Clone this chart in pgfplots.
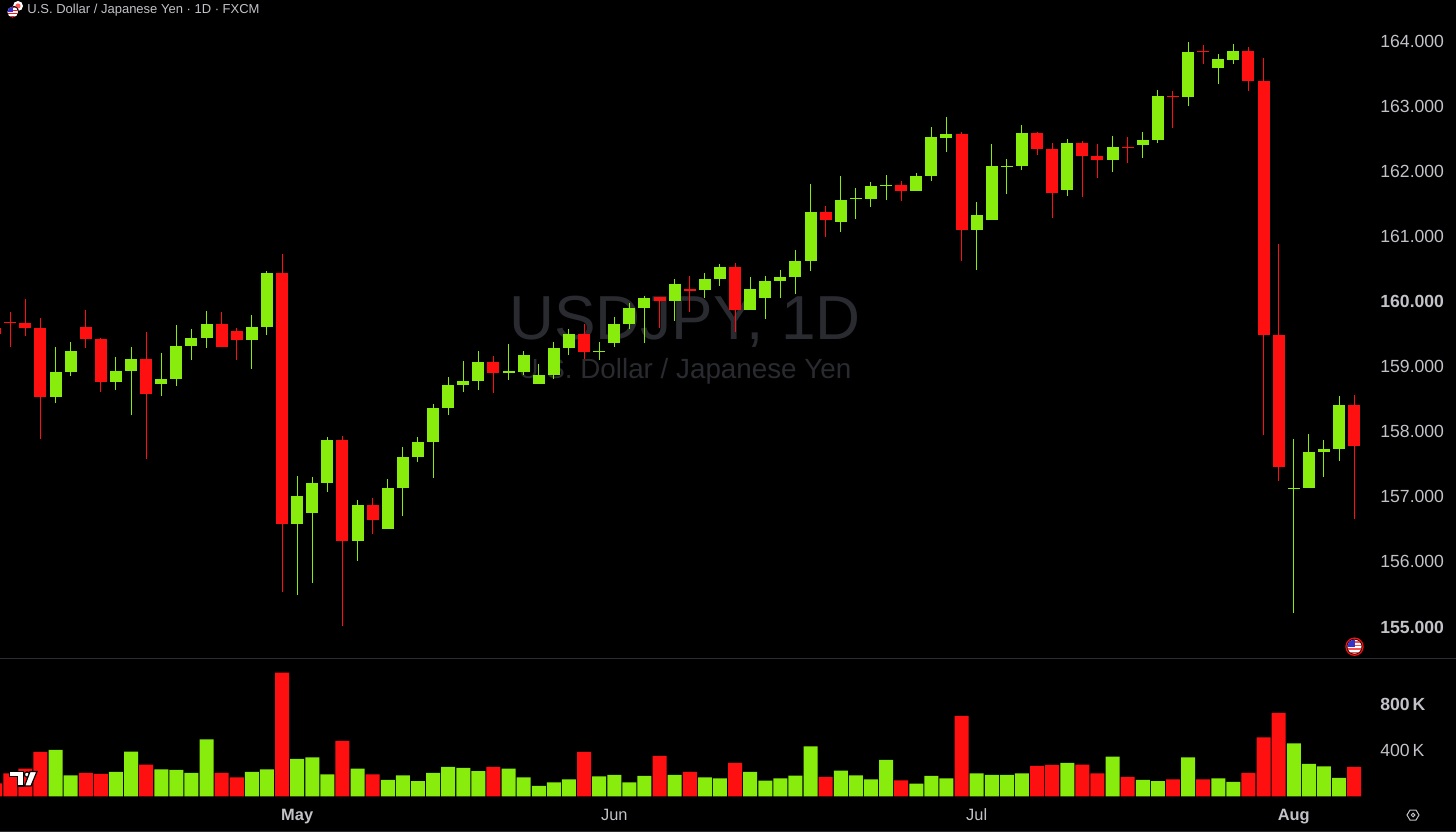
\documentclass[border=0pt]{standalone}
\usepackage{fontspec}
\setmainfont{Liberation Sans}
\usepackage{pgfplots}
\usepackage{pgfplotstable}
\pgfplotsset{compat=1.18}
\definecolor{upc}{HTML}{88EC0C}
\definecolor{dnc}{HTML}{FF1010}
\definecolor{lab}{HTML}{C2C2C8}
\definecolor{wm}{HTML}{2A2B30}
\definecolor{sepc}{HTML}{2C2C30}

\pgfplotstableread{
i o h l c v
3 158.533 159.295 158.446 158.922 403
4 158.922 159.372 158.855 159.239 183
7 158.763 159.147 158.645 158.932 212
8 158.932 159.306 158.256 159.116 389
10 158.732 159.203 158.553 158.804 235
11 158.804 159.633 158.707 159.321 229
12 159.321 159.572 159.101 159.434 203
13 159.434 159.848 159.290 159.649 496
16 159.408 159.787 158.958 159.608 212
17 159.608 160.468 159.490 160.432 235
19 156.582 157.324 155.492 157.012 325
20 156.746 157.299 155.681 157.212 339
21 157.212 157.918 157.079 157.867 191
23 156.321 156.946 156.014 156.869 241
25 156.511 157.268 156.511 157.135 142
26 157.135 157.760 156.710 157.611 183
27 157.611 157.923 157.540 157.836 131
28 157.842 158.420 157.284 158.359 203
29 158.359 158.835 158.256 158.712 255
30 158.716 159.080 158.614 158.778 247
31 158.783 159.244 158.639 159.070 220
33 158.906 159.341 158.798 158.926 241
34 158.921 159.233 158.875 159.172 165
35 158.737 159.039 158.737 158.870 90
36 158.875 159.372 158.814 159.290 122
37 159.290 159.576 159.177 159.494 148
39 159.228 159.372 159.100 159.238 174
40 159.356 159.761 159.295 159.653 186
41 159.653 159.981 159.576 159.904 122
42 159.904 160.088 159.367 160.058 177
44 160.006 160.339 159.704 160.273 186
46 160.175 160.442 160.058 160.339 165
47 160.344 160.570 160.242 160.529 157
49 159.868 160.370 159.868 160.186 212
50 160.058 160.396 159.735 160.319 136
51 160.319 160.477 160.058 160.370 157
52 160.375 160.790 160.114 160.621 180
53 160.626 161.808 160.472 161.368 435
55 161.220 161.926 161.071 161.563 223
56 161.568 161.737 161.266 161.583 183
57 161.568 161.834 161.450 161.773 148
58 161.783 161.947 161.558 161.793 316
60 161.701 161.978 161.701 161.927 110
61 161.927 162.674 161.855 162.521 177
62 162.515 162.838 162.300 162.567 157
64 161.097 161.522 160.483 161.323 200
65 161.251 162.423 161.251 162.075 186
66 162.075 162.183 161.655 162.085 186
67 162.075 162.710 162.024 162.582 200
70 161.707 162.490 161.625 162.428 290
73 162.178 162.546 161.983 162.377 345
75 162.403 162.597 162.208 162.480 142
76 162.485 163.242 162.439 163.150 131
78 163.135 163.990 163.002 163.826 339
80 163.585 163.795 163.334 163.718 157
81 163.713 163.954 163.652 163.841 125
85 157.114 157.882 155.220 157.134 461
86 157.129 157.959 157.129 157.692 281
87 157.692 157.867 157.303 157.739 261
88 157.733 158.547 157.554 158.404 160
}\up

\pgfplotstableread{
i o h l c v
-1 159.587 159.700 159.400 159.505 113
0 159.690 159.833 159.306 159.680 200
1 159.674 160.033 159.470 159.587 241
2 159.587 159.741 157.882 158.533 386
5 159.608 159.864 159.290 159.418 203
6 159.418 159.434 158.604 158.763 194
9 159.116 159.531 157.586 158.584 276
14 159.649 159.838 159.296 159.296 203
15 159.551 159.587 159.096 159.408 165
18 160.432 160.724 155.538 156.582 1076
22 157.867 157.929 155.021 156.321 481
24 156.869 156.987 156.434 156.638 191
32 159.070 159.167 158.588 158.901 255
38 159.500 159.653 159.116 159.228 386
43 160.063 160.068 159.597 160.006 351
45 160.191 160.390 159.837 160.165 212
48 160.529 160.590 159.535 159.868 290
54 161.368 161.460 160.989 161.245 168
59 161.788 161.850 161.538 161.691 139
63 162.567 162.597 160.621 161.097 699
68 162.582 162.597 162.249 162.346 264
69 162.346 162.428 161.287 161.660 273
71 162.428 162.469 161.609 162.239 276
72 162.234 162.423 161.901 162.178 200
74 162.377 162.520 162.131 162.357 168
77 163.160 163.227 162.669 163.145 148
79 163.841 163.933 163.652 163.826 148
82 163.841 163.903 163.237 163.386 203
83 163.391 163.739 157.954 159.484 513
84 159.489 160.877 157.237 157.462 725
89 158.404 158.568 156.664 157.779 255
}\dn

\pgfplotsset{
  chartaxis/.style={
    scale only axis, width=686pt,
    xmin=-0.682, xmax=90.18,
    axis line style={draw=none},
    major tick length=0pt,
    minor tick num=0,
    tick style={draw=none},
    clip=true,
  },
  wick/.style={draw=none, mark=none, forget plot,
    error bars/.cd, y dir=both, y explicit, error mark=none,
    error bar style={line width=0.5pt, draw=#1}},
  body/.style={draw=none, mark=none, forget plot,
    error bars/.cd, y dir=both, y explicit, error mark=none,
    error bar style={line width=6pt, draw=#1}},
}

\begin{document}
\begin{tikzpicture}
\fill[black] (0,0) rectangle (728pt,416pt);
\useasboundingbox (0,0) rectangle (728pt,416pt);

\begin{scope}[x=0.5pt,y=-0.5pt,yshift=416pt]
  \node[text=wm,font=\fontsize{31.1pt}{36pt}\selectfont,inner sep=0pt] at (685,322) {USDJPY, 1D};
  \node[text=wm,font=\fontsize{13.9pt}{16pt}\selectfont,inner sep=0pt] at (685,371.5) {U.S. Dollar / Japanese Yen};
  \draw[sepc,line width=0.5pt] (0,658) -- (1456,658);
  \draw[sepc,line width=0.5pt] (0,831.5) -- (1456,831.5);
\end{scope}

\begin{axis}[chartaxis,
  name=price, at={(0pt,87pt)}, anchor=south west, height=329pt,
  ymin=154.524, ymax=164.630,
  xtick=\empty,
  ytick={155,156,157,158,159,160,161,162,163,164},
  yticklabels={\textbf{155.000},156.000,157.000,158.000,159.000,\textbf{160.000},161.000,162.000,163.000,164.000},
  yticklabel pos=right,
  y tick label style={anchor=west, text=lab, font=\fontsize{8.8pt}{10pt}\selectfont, inner sep=0pt, xshift=4pt},
]
\addplot[wick=upc] table[x=i,y=c,y error plus expr=\thisrow{h}-\thisrow{c},y error minus expr=\thisrow{c}-\thisrow{l}] {\up};
\addplot[wick=dnc] table[x=i,y=c,y error plus expr=\thisrow{h}-\thisrow{c},y error minus expr=\thisrow{c}-\thisrow{l}] {\dn};
\addplot[body=upc] table[x=i,y=c,y error plus expr=0,y error minus expr=\thisrow{c}-\thisrow{o}] {\up};
\addplot[body=dnc] table[x=i,y=c,y error plus expr=\thisrow{o}-\thisrow{c},y error minus expr=0] {\dn};
\end{axis}

\begin{axis}[chartaxis,
  name=vol, at={(0pt,14pt)}, anchor=south west, height=73pt,
  ymin=-67, ymax=1202.6,
  xtick={19,40,64,85},
  xticklabels={\textbf{May},Jun,Jul,\textbf{Aug}},
  x tick label style={text=lab, font=\fontsize{8.2pt}{10pt}\selectfont, anchor=base, yshift=-8pt, inner sep=0pt},
  ytick={400,800},
  yticklabels={400\,K,\textbf{800\,K}},
  yticklabel pos=right,
  y tick label style={anchor=west, text=lab, font=\fontsize{8.8pt}{10pt}\selectfont, inner sep=0pt, xshift=4pt},
]
\addplot[ybar, bar shift=0pt, bar width=7pt, fill=upc, draw=none, forget plot] table[x=i,y=v] {\up};
\addplot[ybar, bar shift=0pt, bar width=7pt, fill=dnc, draw=none, forget plot] table[x=i,y=v] {\dn};
\end{axis}

\begin{scope}[x=0.5pt,y=-0.5pt,yshift=416pt]
  % header
  \node[anchor=west,text=lab,font=\fontsize{6.5pt}{8pt}\selectfont,inner sep=0pt] at (27,10) {U.S. Dollar / Japanese Yen · 1D · FXCM};
  % header flag icon
  \fill[white] (18,6) circle (5);
  \fill[dnc!70!white] (18,6) circle (2.6);
  \fill[black] (12.7,12) circle (6.3);
  \begin{scope}
    \clip (12.7,12) circle (5.3);
    \fill[white] (7,6) rectangle (19,18);
    \foreach \yy in {7,10,13,16} \fill[dnc] (7,\yy) rectangle (19,\yy+1.5);
    \fill[blue!75!white!80!black] (7,6) rectangle (13,12);
  \end{scope}
  % flag at bottom right
  \draw[dnc,line width=0.6pt] (1354.5,646.7) circle (8.6);
  \begin{scope}
    \clip (1354.5,646.7) circle (7);
    \fill[white] (1346,639) rectangle (1363,655);
    \foreach \yy in {641,644.5,648,651.5} \fill[dnc!75!white] (1346,\yy) rectangle (1363,\yy+1.7);
    \fill[blue!75!white!80!black] (1346,639) rectangle (1354.5,647);
  \end{scope}
  % logo
  \begin{scope}[draw=black,line width=0.6pt,line join=miter]
    \filldraw[fill=white] (9.5,771.5) -- (23.5,771.5) -- (23.5,786) -- (17.5,786) -- (17.5,776.5) -- (9.5,776.5) -- cycle;
    \filldraw[fill=white] (27,774.5) circle (2.6);
    \filldraw[fill=white] (30,771.5) -- (37,771.5) -- (31,786) -- (24.5,786) -- cycle;
  \end{scope}
  % settings icon
  \draw[lab,line width=0.5pt] (1407,815) -- (1410,810) -- (1416,810) -- (1419,815) -- (1416,820) -- (1410,820) -- cycle;
  \draw[lab,line width=0.5pt] (1413,815) circle (1.8);
\end{scope}
\end{tikzpicture}
\end{document}
